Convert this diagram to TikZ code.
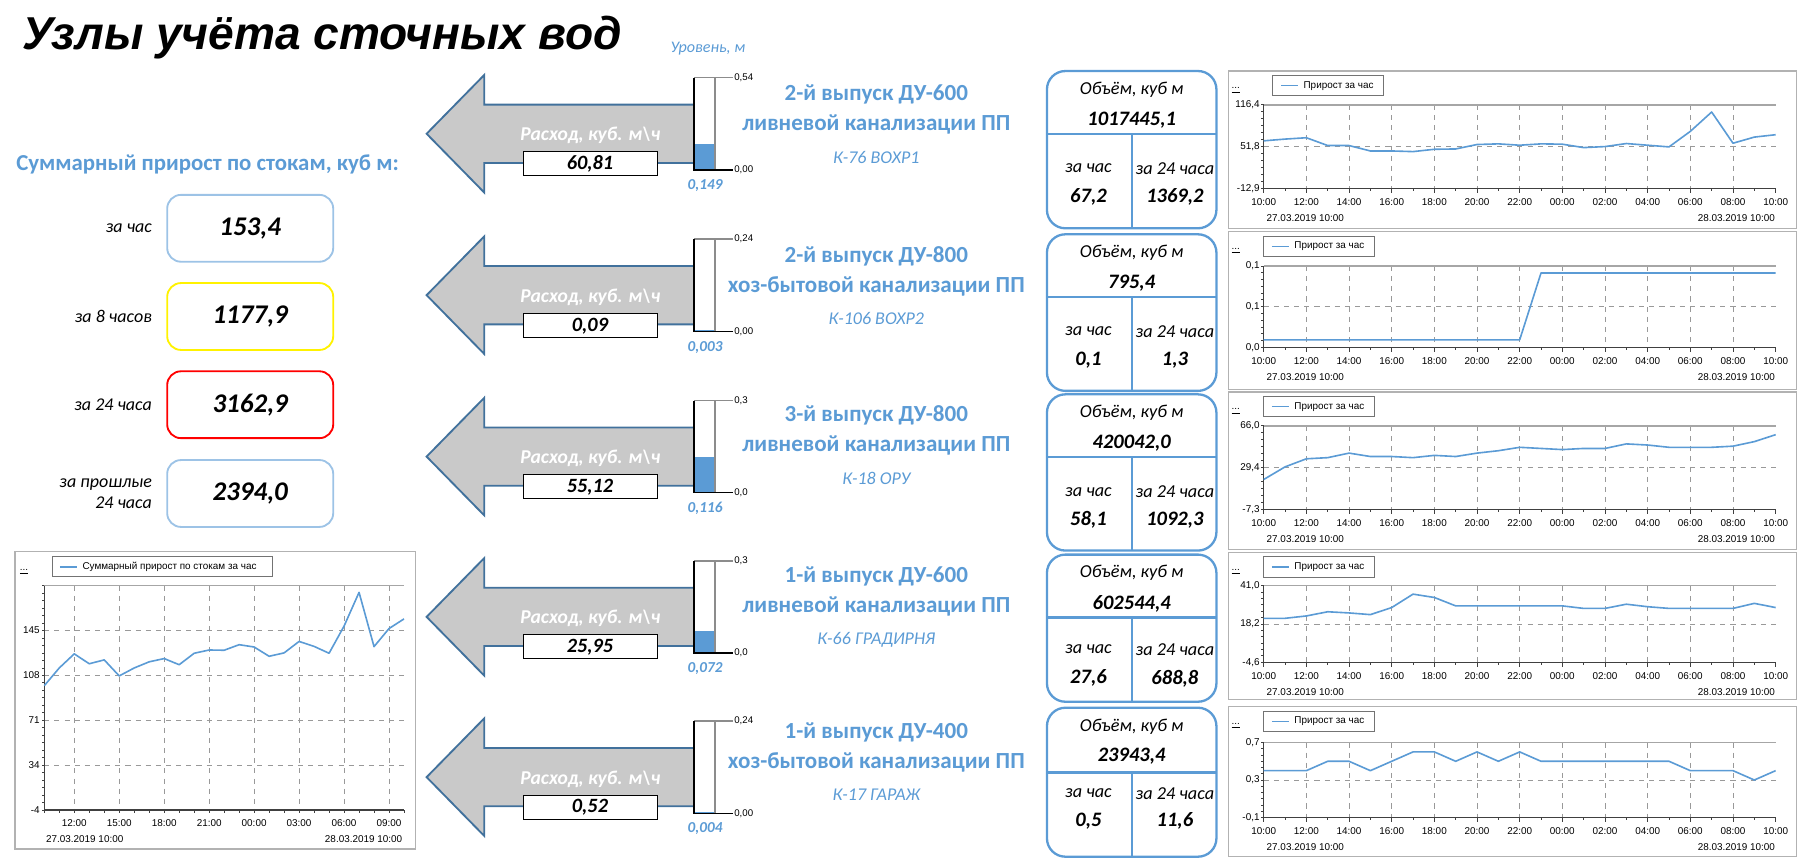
\documentclass[tikz,border=0pt]{standalone}
\usepackage{fontspec}
\setmainfont{Carlito}
\newfontfamily\arialfont{Liberation Sans}
\usetikzlibrary{positioning}
\definecolor{ofblue}{HTML}{5B9BD5}
\definecolor{paleblue}{HTML}{9DC3E6}
\definecolor{arrowfill}{HTML}{C9C9C9}
\definecolor{arrowline}{HTML}{41719C}
\definecolor{warnyellow}{HTML}{FFF200}
\definecolor{alarmred}{HTML}{FF0000}
\newcommand{\fs}[1]{\fontsize{#1pt}{#1pt}\selectfont}
% hourly values, 27.03 10:00 ... 28.03 10:00
\def\dataSum{99.6,114.3,126,117.8,121,107.7,114.3,119.4,122.1,117,126.5,129.2,129,133.6,131.7,124,126.8,136.3,132.2,126.5,149,177,132,147,155}
\def\dataA{60.7,63.4,65.5,53.4,53.4,45,45,44,47.6,48.1,55,56,53.9,56,55.5,50.2,51.8,56.5,53.9,51.3,75.4,105.4,57,66.5,70.2}
\def\dataB{0.013,0.013,0.013,0.013,0.013,0.013,0.013,0.013,0.013,0.013,0.013,0.013,0.013,0.128,0.128,0.128,0.128,0.128,0.128,0.128,0.128,0.128,0.128,0.128,0.128}
\def\dataC{18.9,30,37.1,38.1,42.1,39.1,39.1,38.1,40.1,39.1,42.1,44.2,47.2,46.2,45.2,46.2,46.2,50.2,49.2,47.2,47.2,47.2,48.2,52.2,58.3}
\def\dataD{21.6,21.6,23,25.5,24.8,23.8,28,36,34,29,29,29,29,29,29,27.5,27.5,30,28.5,27.5,27.5,27.5,27.5,30.5,28}
\def\dataE{0.4,0.4,0.4,0.5,0.5,0.4,0.5,0.6,0.6,0.5,0.6,0.5,0.6,0.5,0.5,0.5,0.5,0.5,0.5,0.5,0.4,0.4,0.4,0.3,0.4}
\begin{document}
\begin{tikzpicture}[x=0.5pt, y=-0.5pt,
    txt/.style={inner sep=0pt},
    arrowbody/.style={fill=arrowfill, draw=arrowline, line width=0.8pt},
    flowbox/.style={draw=black, fill=white, line width=0.4pt},
    gaugelbl/.style={font=\arialfont\fs{4.2}, anchor=west, inner sep=0.5pt},
    levelval/.style={font=\fs{6.6}\bfseries\itshape, text=ofblue, inner sep=0pt},
    pipehead/.style={font=\fs{10}\bfseries, text=ofblue, inner sep=0pt},
    wellname/.style={font=\fs{7.8}\itshape, text=ofblue, inner sep=0pt},
    infobox/.style={draw=ofblue, line width=1pt, rounded corners=8pt},
    infolbl/.style={font=\fs{7.9}\itshape, inner sep=0pt},
    infoval/.style={font=\fs{8.9}\bfseries\itshape, inner sep=0pt},
    chartlbl/.style={font=\arialfont\fs{4.3}, inner sep=0.6pt},
    chartframe/.style={draw=black!30, line width=0.5pt},
    legendbox/.style={draw=black!55, line width=0.4pt},
    gridline/.style={black!40, dash pattern=on 2.2pt off 2.2pt, line width=0.4pt},
    axisline/.style={black!75, line width=0.6pt},
    dataline/.style={ofblue, line width=0.7pt, line join=round},
    sumbox/.style={draw, rounded corners=6pt, line width=0.8pt, minimum width=72pt,
      minimum height=29pt, inner sep=0pt, font=\fs{11.7}\bfseries\itshape},
    sumlbl/.style={font=\fontsize{7.8pt}{9pt}\selectfont\itshape, inner sep=0pt, align=right}
  ]
  \useasboundingbox (0,0) rectangle (1562,744);

  \node[txt, anchor=base west, font=\arialfont\fs{20}\bfseries\itshape] (title) at (19,43) {Узлы учёта сточных вод};
  \node[wellname, font=\fs{7}\itshape] (levelhead) at (614,42.5) {Уровень, м};

  % totals
  \node[txt, font=\fs{9.9}\bfseries, text=ofblue] (sumhead) at (180,143) {Суммарный прирост по стокам, куб м:};
  \node[sumbox, draw=paleblue] (sumHour) at (217,198) {153,4};
  \node[sumbox, draw=warnyellow] (sumEight) at (217,274.5) {1177,9};
  \node[sumbox, draw=alarmred] (sumDay) at (217,351) {3162,9};
  \node[sumbox, draw=paleblue] (sumPrev) at (217,428) {2394,0};
  \node[sumlbl, left=6pt of sumHour] (lblHour) {за час};
  \node[sumlbl, left=6pt of sumEight] (lblEight) {за 8 часов};
  \node[sumlbl, left=6pt of sumDay] (lblDay) {за 24 часа};
  \node[sumlbl, left=6pt of sumPrev] (lblPrev) {за прошлые\\24 часа};

  % total chart
  \draw[chartframe] (13,478.5) rectangle (360,736.3);
  \draw[legendbox] (45.7,482.8) rectangle (236.2,500.2);
  \draw[dataline] (52,491.5) -- (67,491.5);
  \node[chartlbl, anchor=west] (sumlegend) at (70,491.5) {Суммарный прирост по стокам за час};
  \node[chartlbl] (sumdots) at (20.8,496) {\underline{...}};
  \foreach \k in {1,...,4} \draw[gridline] (38.4,{702.5-\k*38.9}) -- (350.4,{702.5-\k*38.9});
  \foreach \h in {2,5,...,23} \draw[gridline] ({38.4+\h*13},508) -- ({38.4+\h*13},702.5);
  \draw[black!35, line width=0.5pt] (38.4,508) -- (350.4,508);
  \foreach \k in {0,...,30} \draw[axisline, line width=0.4pt] (38.4,{508+\k*194.5/30}) -- ++(-2,0);
  \foreach \h in {0,...,24} \draw[axisline, line width=0.4pt] ({38.4+\h*13},702.5) -- ++(0,2.5);
  \draw[axisline] (38.4,508) -- (38.4,702.5) -- (350.4,702.5);
  \foreach \k/\v in {0/-4,1/34,2/71,3/108,4/145}
    \node[chartlbl, anchor=east] (sumy\k) at (36,{702.5-\k*38.9}) {\v};
  \foreach \h in {2,5,...,23} {
    \pgfmathtruncatemacro\hr{mod(10+\h,24)}
    \node[chartlbl] (sumx\h) at ({38.4+\h*13},714) {\ifnum\hr<10 0\fi\hr:00};
  }
  \node[chartlbl, anchor=west] (sumfrom) at (38.4,727.7) {27.03.2019 10:00};
  \node[chartlbl, anchor=east] (sumto) at (350.4,727.7) {28.03.2019 10:00};
  \gdef\pts{}
  \foreach \v [count=\h from 0] in \dataSum {
    \pgfmathsetmacro\px{38.4+\h*13}
    \pgfmathsetmacro\py{702.5-(\v+3.5)/186*194.5}
    \xdef\pts{\pts (\px,\py)}
  }
  \edef\tmp{\noexpand\draw[dataline] plot coordinates {\pts};}\tmp

  % outlets: flow arrow, level gauge, name
  \foreach \y/\tc/\flow/\ltop/\lbot/\lev/\lvfrac/\pipeA/\pipeB/\well [count=\rw] in {
    116/116/{60,81}/{0,54}/{0,00}/{0,149}/0.276/{2-й выпуск ДУ-600}/{ливневой канализации ПП}/{К-76 ВОХР1},
    256/256/{0,09}/{0,24}/{0,00}/{0,003}/0.0125/{2-й выпуск ДУ-800}/{хоз-бытовой канализации ПП}/{К-106 ВОХР2},
    396/394/{55,12}/{0,3}/{0,0}/{0,116}/0.387/{3-й выпуск ДУ-800}/{ливневой канализации ПП}/{К-18 ОРУ},
    535/534/{25,95}/{0,3}/{0,0}/{0,072}/0.24/{1-й выпуск ДУ-600}/{ливневой канализации ПП}/{К-66 ГРАДИРНЯ},
    674/669/{0,52}/{0,24}/{0,00}/{0,004}/0.017/{1-й выпуск ДУ-400}/{хоз-бытовой канализации ПП}/{К-17 ГАРАЖ}}
  {
    \draw[arrowbody] (370,\y) -- (420,{\y-51}) -- (420,{\y-25.3}) -- (602,{\y-25.3})
      -- (602,{\y+25.3}) -- (420,{\y+25.3}) -- (420,{\y+51}) -- cycle;
    \node[txt, font=\fs{8.5}\bfseries\itshape, text=white] (rate\rw) at (512,{\y+1.5}) {Расход, куб. м\textbackslash ч};
    \draw[flowbox] (453.6,{\y+15.6}) rectangle (569.8,{\y+36.4});
    \node[txt, font=\fs{8.8}\bfseries\itshape] (flow\rw) at (511.7,{\y+26.5}) {\flow};
    \fill[white] (602,{\y-48.6}) rectangle (620,{\y+31.4});
    \fill[ofblue] (602,{\y+31.4}) rectangle (620,{\y+31.4-80*\lvfrac});
    \draw[black!45, line width=0.6pt] (602,{\y-48.6}) -- (635.5,{\y-48.6}) (620,{\y-48.6}) -- (620,{\y+31.4});
    \draw[black, line width=0.6pt] (602,{\y-48.6}) -- (602,{\y+31.4}) -- (635.5,{\y+31.4});
    \node[gaugelbl] (ltop\rw) at (635.5,{\y-48.6}) {\ltop};
    \node[gaugelbl] (lbot\rw) at (635.5,{\y+31.4}) {\lbot};
    \node[levelval] (lev\rw) at (611.5,{\y+45}) {\lev};
    \node[pipehead] (pipeA\rw) at (760,{\tc-34}) {\pipeA};
    \node[pipehead] (pipeB\rw) at (760,{\tc-8}) {\pipeB};
    \node[wellname] (well\rw) at (760,{\tc+20.5}) {\well};
  }

  % volume boxes
  \foreach \bt/\bd/\bb/\ta/\tb/\tl/\tv/\vol/\hsum/\dsum [count=\rw] in {
    61.6/116.2/198/77.5/104.1/146/170.6/{1017445,1}/{67,2}/{1369,2},
    203.2/257.8/339/219.1/245.7/287.6/312.2/{795,4}/{0,1}/{1,3},
    342/396.6/477.5/358/384.5/426.4/451/{420042,0}/{58,1}/{1092,3},
    481/535.6/608.6/497/523.5/563.2/588.3/{602544,4}/{27,6}/{688,8},
    613.8/670/743/630/656/688/712/{23943,4}/{0,5}/{11,6}}
  {
    \draw[infobox] (908,\bt) rectangle (1055,\bb);
    \draw[ofblue, line width=1pt] (908,\bd) -- (1055,\bd) (981.5,\bd) -- (981.5,\bb);
    \node[infolbl] (volh\rw) at (981.5,\ta) {Объём, куб м};
    \node[infoval] (vol\rw) at (981.5,\tb) {\vol};
    \node[infolbl] (hourh\rw) at (944,\tl) {за час};
    \node[infolbl] (dayh\rw) at (1019,\tl) {за 24 часа};
    \node[infoval] (hour\rw) at (944,\tv) {\hsum};
    \node[infoval] (day\rw) at (1019,\tv) {\dsum};
  }

  % hourly charts
  \foreach \F/\pt/\pb/\fb/\lx/\ymin/\ymax/\lt/\lm/\lb/\vals [count=\c] in {
    61.6/91/163.3/198/1104/-12.9/116.4/{116,4}/{51,8}/{-12,9}/\dataA,
    201/230.7/301.3/337.5/1096/0/0.14/{0,1}/{0,1}/{0,0}/\dataB,
    340/369.4/441.7/476.5/1096/-7.3/66.0/{66,0}/{29,4}/{-7,3}/\dataC,
    479/508/574.4/607/1096/-4.6/41.0/{41,0}/{18,2}/{-4,6}/\dataD,
    613/644/709/743/1096/-0.1/0.7/{0,7}/{0,3}/{-0,1}/\dataE}
  {
    \draw[chartframe] (1065.3,\F) rectangle (1558,\fb);
    \draw[legendbox] (\lx,{\F+4}) rectangle ({\lx+96},{\F+21.4});
    \draw[dataline] ({\lx+7},{\F+12.7}) -- ({\lx+22},{\F+12.7});
    \node[chartlbl, anchor=west] (leg\c) at ({\lx+25},{\F+12.7}) {Прирост за час};
    \node[chartlbl] (dots\c) at (1071.7,{\F+17}) {\underline{...}};
    \foreach \h in {2,4,...,22} \draw[gridline] ({1096+\h*18.5},\pt) -- ({1096+\h*18.5},\pb);
    \draw[gridline] (1096,{(\pt+\pb)/2}) -- (1540,{(\pt+\pb)/2});
    \draw[black!35, line width=0.5pt] (1096,\pt) -- (1540,\pt);
    \foreach \k in {0,...,12} \draw[axisline, line width=0.4pt] (1096,{\pt+\k*(\pb-\pt)/12}) -- ++(-2,0);
    \foreach \h in {0,...,24} \draw[axisline, line width=0.4pt] ({1096+\h*18.5},\pb) -- ++(0,2);
    \foreach \h in {0,2,...,24} \draw[axisline, line width=0.4pt] ({1096+\h*18.5},\pb) -- ++(0,4);
    \draw[axisline] (1096,\pt) -- (1096,\pb) -- (1540,\pb);
    \node[chartlbl, anchor=east] (top\c) at (1094,\pt) {\lt};
    \node[chartlbl, anchor=east] (mid\c) at (1094,{(\pt+\pb)/2}) {\lm};
    \node[chartlbl, anchor=east] (bot\c) at (1094,\pb) {\lb};
    \foreach \h in {0,2,...,24} {
      \pgfmathtruncatemacro\hr{mod(10+\h,24)}
      \node[chartlbl] (t\c-\h) at ({1096+\h*18.5},{\pb+11.7}) {\ifnum\hr<10 0\fi\hr:00};
    }
    \node[chartlbl, anchor=west] (from\c) at (1097,{\pb+26}) {27.03.2019 10:00};
    \node[chartlbl, anchor=east] (to\c) at (1541,{\pb+26}) {28.03.2019 10:00};
    \edef\vlist{\vals}
    \gdef\pts{}
    \foreach \v [count=\h from 0] in \vlist {
      \pgfmathsetmacro\px{1096+\h*18.5}
      \pgfmathsetmacro\py{\pb-(\v-(\ymin))/(\ymax-(\ymin))*(\pb-\pt)}
      \xdef\pts{\pts (\px,\py)}
    }
    \edef\tmp{\noexpand\draw[dataline] plot coordinates {\pts};}\tmp
  }
\end{tikzpicture}
\end{document}
